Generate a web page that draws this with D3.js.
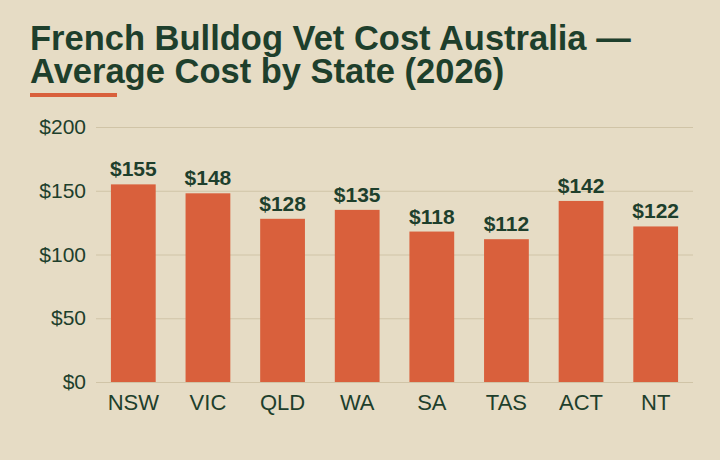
<!DOCTYPE html>
<html><head><meta charset="utf-8">
<script src="https://cdn.jsdelivr.net/npm/d3@7"></script>
<style>html,body{margin:0;padding:0;background:#e6dcc5;}svg{display:block;}</style>
</head><body>
<svg id="chart" width="720" height="460"></svg>
<script>
const titleLines = ["French Bulldog Vet Cost Australia \u2014", "Average Cost by State (2026)"];
const states = ["NSW","VIC","QLD","WA","SA","TAS","ACT","NT"];
const costs = [155,148,128,135,118,112,142,122];
const yTicks = [0,50,100,150,200];

const svg = d3.select("#chart");
const W = 720, H = 460;
const m = {left:96, right:27, top:127, bottom:78};
const dark = "#1e3f2c", accent = "#d9603c", grid = "#d0c4a7";
const font = "'Liberation Sans', Arial, sans-serif";

svg.append("rect").attr("width",W).attr("height",H).attr("fill","#e6dcc5");

svg.selectAll("text.title").data(titleLines).join("text")
  .attr("class","title").attr("x",30).attr("y",(d,i)=>50+i*33)
  .attr("font-family",font).attr("font-weight","bold").attr("font-size",34.5)
  .attr("fill",dark).text(d=>d);

svg.append("rect").attr("x",30).attr("y",93).attr("width",87).attr("height",4).attr("fill",accent);

const x = d3.scaleBand().domain(states).range([m.left, W-m.right]).paddingInner(0.4).paddingOuter(0.2);
const y = d3.scaleLinear().domain([0,200]).range([H-m.bottom, m.top]);

const yAxis = svg.append("g").attr("transform",`translate(${m.left},0)`)
  .call(d3.axisLeft(y).tickValues(yTicks).tickFormat(d=>"$"+d).tickSize(-(W-m.left-m.right)).tickPadding(10));
yAxis.select(".domain").remove();
yAxis.selectAll(".tick line").attr("stroke",grid).attr("stroke-width",1);
yAxis.selectAll(".tick text").attr("font-family",font).attr("font-size",21).attr("fill",dark);

svg.selectAll("rect.bar").data(costs).join("rect").attr("class","bar")
  .attr("x",(d,i)=>x(states[i])).attr("width",x.bandwidth())
  .attr("y",d=>y(d)).attr("height",d=>y(0)-y(d)).attr("fill",accent);

svg.selectAll("text.val").data(costs).join("text").attr("class","val")
  .attr("x",(d,i)=>x(states[i])+x.bandwidth()/2).attr("y",d=>y(d)-8)
  .attr("text-anchor","middle").attr("font-family",font).attr("font-weight","bold")
  .attr("font-size",21).attr("fill",dark).text(d=>"$"+d);

const xAxis = svg.append("g").attr("transform",`translate(0,${H-m.bottom})`)
  .call(d3.axisBottom(x).tickSize(0).tickPadding(12));
xAxis.select(".domain").remove();
xAxis.selectAll(".tick text").attr("font-family",font).attr("font-size",22).attr("fill",dark);
</script>
</body></html>
